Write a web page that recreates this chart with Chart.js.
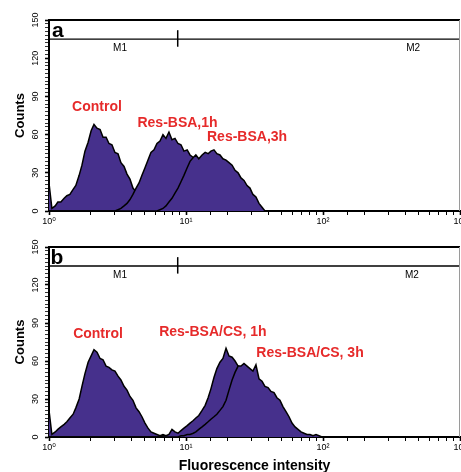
<!DOCTYPE html>
<html><head><meta charset="utf-8">
<script src="https://cdn.jsdelivr.net/npm/chart.js@4.4.1/dist/chart.umd.min.js"></script>
<style>
html,body{margin:0;padding:0;background:#fff;overflow:hidden;width:461px;height:472px;}
#wrapA{position:absolute;left:0;top:0;width:480px;height:232px;}
#wrapB{position:absolute;left:0;top:232px;width:480px;height:250px;}
canvas{display:block}
</style></head><body>
<div id="wrapA"><canvas id="cA" width="480" height="232"></canvas></div>
<div id="wrapB"><canvas id="cB" width="480" height="250"></canvas></div>
<script>
// Fluorescence channel values (x) shared by all histograms
const channels = [1.00,1.05,1.11,1.16,1.22,1.29,1.35,1.42,1.50,1.57,1.66,1.74,1.83,1.93,2.03,2.13,2.24,2.36,2.48,2.61,2.74,2.88,3.03,3.19,3.35,3.53,3.71,3.90,4.10,4.32,4.54,4.77,5.02,5.28,5.55,5.84,6.14,6.46,6.79,7.14,7.51,7.90,8.31,8.74,9.19,9.66,10.2,10.7,11.3,11.8,12.4,13.1,13.8,14.5,15.2,16.0,16.8,17.7,18.6,19.6,20.6,21.7,22.8,24.0,25.2,26.5,27.9,29.3,30.8,32.4,34.1,35.9,37.7,39.7,41.7,43.9,46.1,48.5,51.0,53.7,56.5,59.4,62.5,65.7,69.1,72.7,76.4,80.4,84.5,88.9,93.5,98.3];

// Panel a counts
const controlA = [22,2,4,7,7,10,12,13,17,20,28,36,47,54,63,68,65,64,58,58,53,52,46,45,38,35,29,25,18,15,9,6,3,1,0];
const bsa1hA = [0,0,0,0,0,0,0,0,0,0,0,0,0,0,0,0,0,0,0,0,0,0,0,1,2,4,6,9,13,18,22,28,34,40,46,48,53,55,60,57,62,56,57,53,52,47,48,44,42,39,35,31,26,21,17,13,9,6,3,1,0];
const bsa3hA = [0,0,0,0,0,0,0,0,0,0,0,0,0,0,0,0,0,0,0,0,0,0,0,0,0,0,0,0,0,0,0,0,0,0,0,0,0,1,2,4,7,10,14,18,23,28,34,39,42,44,41,44,46,45,47,48,45,44,41,40,38,36,32,30,26,24,20,18,13,11,6,3,0];

// Panel b counts
const controlB = [21,2,4,6,8,10,12,15,18,23,30,40,50,59,64,69,67,62,61,56,55,53,52,48,45,40,37,32,29,23,20,16,11,7,4,3,2,1,2,1,1,0];
const cs1hB = [0,0,0,0,0,0,0,0,0,0,0,0,0,0,0,0,0,0,0,0,0,0,0,0,0,0,0,0,0,0,0,0,0,0,0,0,0,0,1,1,2,6,4,3,5,7,9,11,13,15,17,21,25,31,38,47,54,59,62,70,64,63,60,56,54,52,49,46,43,40,36,32,28,25,21,17,13,10,7,4,2,1,0];
const cs3hB = [0,0,0,0,0,0,0,0,0,0,0,0,0,0,0,0,0,0,0,0,0,0,0,0,0,0,0,0,0,0,0,0,0,0,0,0,0,0,0,0,0,0,0,0,1,1,2,2,3,4,6,8,10,12,14,16,18,21,24,29,37,45,51,56,56,58,56,54,52,57,46,44,40,39,36,35,31,29,24,20,16,11,8,6,4,3,2,2,1,2,1,0];

// Axis ticks / labels
const xRange = [1, 1000];
const xDecades = [1, 10, 100, 1000];
const xTickLabels = ['10\u2070', '10\u00B9', '10\u00B2', '10\u00B3'];
const yRange = [0, 150];
const yLabelled = [0, 30, 60, 90, 120, 150];
const yStep = 3;

// Marker (M1 / M2 gate)
const markerLevel = 135;
const markerEnds = [1, 1000];
const gateValue = 8.7;
const gateSpan = [129, 142];

const FONT = "'Liberation Sans', Arial, 'DejaVu Sans', sans-serif";
const FILL = '#46308c';
const RED = '#e62a2a';
Chart.defaults.font.family = FONT;
Chart.defaults.color = '#000';

function series(counts, order) {
  return {
    data: counts.map((y, i) => ({x: channels[i], y})),
    fill: 'origin', backgroundColor: FILL, borderColor: '#000', borderWidth: 1.5,
    pointRadius: 0, tension: 0, order
  };
}
function markerSets() {
  return [
    {data: markerEnds.map(x => ({x, y: markerLevel})), borderColor: '#000', borderWidth: 1.3, pointRadius: 0, fill: false, order: 0},
    {data: gateSpan.map(y => ({x: gateValue, y})), borderColor: '#000', borderWidth: 1.5, pointRadius: 0, fill: false, order: 0}
  ];
}

const decor = {
  id: 'decor',
  afterDatasetsDraw(chart, args, opts) {
    const {ctx, chartArea: a, scales: {x, y}} = chart;
    ctx.save();
    ctx.strokeStyle = '#000'; ctx.lineWidth = 2;
    ctx.beginPath(); ctx.moveTo(a.left, a.top); ctx.lineTo(a.right, a.top); ctx.stroke();
    ctx.strokeStyle = '#9a9a9a'; ctx.lineWidth = 1;
    ctx.beginPath(); ctx.moveTo(a.right - 0.5, a.top); ctx.lineTo(a.right - 0.5, a.bottom); ctx.stroke();
    ctx.textAlign = 'center'; ctx.textBaseline = 'middle';
    for (const t of opts.texts) {
      ctx.font = t.font; ctx.fillStyle = t.color;
      ctx.fillText(t.text, x.getPixelForValue(t.x), y.getPixelForValue(t.y));
    }
    ctx.restore();
  }
};

function makeChart(id, sets, texts, withTitle, padTop, xHeight) {
  return new Chart(document.getElementById(id), {
    type: 'line',
    data: {datasets: sets},
    options: {
      responsive: false, animation: false, devicePixelRatio: 1,
      layout: {padding: {top: padTop, right: 20, left: 0, bottom: 0}},
      plugins: {legend: {display: false}, tooltip: {enabled: false}, decor: {texts}},
      scales: {
        x: {
          type: 'logarithmic', min: xRange[0], max: xRange[1], position: 'bottom',
          grid: {drawOnChartArea: false, drawTicks: true, tickLength: 4, color: '#000',
                 tickWidth: (c) => (c.tick && xDecades.some(d => Math.abs(d - c.tick.value) < 1e-6 * d)) ? 1.6 : 1},
          border: {color: '#000', width: 2},
          ticks: {
            autoSkip: false, maxRotation: 0, minRotation: 0, padding: 1,
            font: {size: 9}, color: '#000',
            callback: (v) => {
              const i = xDecades.findIndex(d => Math.abs(d - v) < 1e-6 * d);
              return i >= 0 ? xTickLabels[i] : '';
            }
          },
          title: {display: withTitle, text: 'Fluorescence intensity', font: {size: 14, weight: 'bold'}, padding: {top: 0, bottom: 7}, color: '#000'},
          afterFit: (s) => { s.height = xHeight; }
        },
        y: {
          type: 'linear', min: yRange[0], max: yRange[1],
          grid: {drawOnChartArea: false, drawTicks: true, tickLength: 4, color: '#000',
                 tickWidth: (c) => (c.tick && yLabelled.includes(Math.round(c.tick.value))) ? 1.6 : 0.8},
          border: {color: '#000', width: 2},
          ticks: {
            stepSize: yStep, autoSkip: false, minRotation: 90, maxRotation: 90,
            crossAlign: 'center', padding: 2, font: {size: 9}, color: '#000',
            callback: (v) => yLabelled.includes(Math.round(v)) && Math.abs(v - Math.round(v)) < 1e-6 ? String(Math.round(v)) : ''
          },
          title: {display: true, text: 'Counts', font: {size: 13, weight: 'bold'}, padding: {top: 13, bottom: 0}, color: '#000'},
          afterFit: (s) => { s.width = 49; }
        }
      }
    },
    plugins: [decor]
  });
}

const boldRed = 'bold 14px ' + FONT;
const small = '10px ' + FONT;
const letter = 'bold 21px ' + FONT;

makeChart('cA',
  [series(bsa3hA, 1), series(bsa1hA, 2), series(controlA, 3), ...markerSets()],
  [
    {text: 'a', x: 1.16, y: 141, font: letter, color: '#000'},
    {text: 'M1', x: 3.3, y: 128, font: small, color: '#000'},
    {text: 'M2', x: 455, y: 128, font: small, color: '#000'},
    {text: 'Control', x: 2.24, y: 81.7, font: boldRed, color: RED},
    {text: 'Res-BSA,1h', x: 8.67, y: 69.1, font: boldRed, color: RED},
    {text: 'Res-BSA,3h', x: 27.9, y: 57.7, font: boldRed, color: RED}
  ], false, 20, 21);

makeChart('cB',
  [series(cs3hB, 1), series(cs1hB, 2), series(controlB, 3), ...markerSets()],
  [
    {text: 'b', x: 1.14, y: 141, font: letter, color: '#000'},
    {text: 'M1', x: 3.3, y: 128, font: small, color: '#000'},
    {text: 'M2', x: 445, y: 128, font: small, color: '#000'},
    {text: 'Control', x: 2.28, y: 81.3, font: boldRed, color: RED},
    {text: 'Res-BSA/CS, 1h', x: 15.7, y: 82.9, font: boldRed, color: RED},
    {text: 'Res-BSA/CS, 3h', x: 80.4, y: 66.3, font: boldRed, color: RED}
  ], true, 15, 45);
</script>
</body></html>
